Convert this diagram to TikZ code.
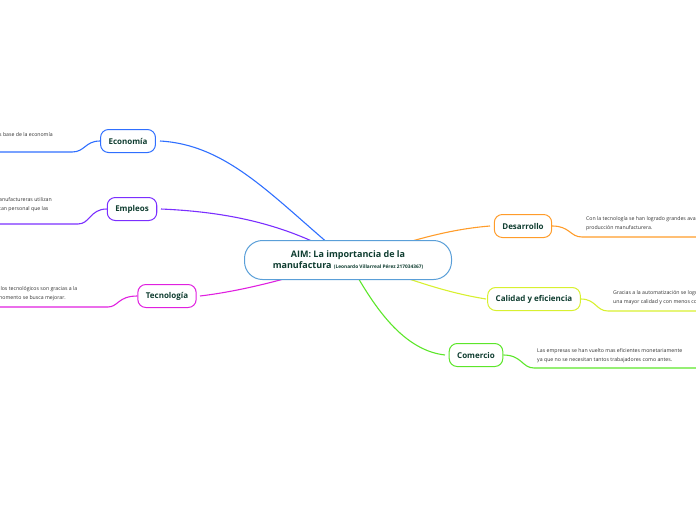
\documentclass[tikz,border=0pt]{standalone}
\usepackage{fontspec}
\setmainfont{Open Sans}
\begin{document}
\begin{tikzpicture}[x=1pt,y=-1pt,
  topic/.style={draw=#1,line width=1pt,rounded corners=8pt,fill=white,text=tc,font=\fontsize{8}{9}\selectfont\bfseries,minimum height=23pt,inner xsep=8pt},
  desc/.style={anchor=west,align=left,font=\fontsize{5.2}{9}\selectfont,text=black!80,inner sep=0pt},
  br/.style={draw=#1,line width=1.1pt}]
\definecolor{tc}{HTML}{0F3D30}
\definecolor{ceco}{HTML}{2F6FFF}
\definecolor{cemp}{HTML}{7B2FFF}
\definecolor{ctec}{HTML}{E020E0}
\definecolor{cdes}{HTML}{FF9C2A}
\definecolor{ccal}{HTML}{D8F030}
\definecolor{ccom}{HTML}{5CE62A}
\definecolor{ccen}{HTML}{5A9FD8}
\useasboundingbox (0,0) rectangle (696,520);
\clip (0,0) rectangle (696,520);
\coordinate (cc) at (348,260);
\coordinate (ue1) at (72,152); \coordinate (ue0) at (-5,152);
\coordinate (um1) at (78,224); \coordinate (um0) at (-5,224);
\coordinate (ut1) at (108,307); \coordinate (ut0) at (-5,307);
\coordinate (ud1) at (582,237); \coordinate (ud0) at (700,237);
\coordinate (uc1) at (608,311); \coordinate (uc0) at (700,311);
\coordinate (uo1) at (534,368); \coordinate (uo0) at (700,368);
\draw[br=ceco] (160,141) .. controls (230,145) and (275,200) .. (cc);
\draw[br=cemp] (161,209) .. controls (230,212) and (290,225) .. (cc);
\draw[br=ctec] (200,296) .. controls (250,290) and (300,275) .. (cc);
\draw[br=cdes] (490,226) .. controls (440,230) and (400,245) .. (cc);
\draw[br=ccal] (486,299) .. controls (430,290) and (390,270) .. (cc);
\draw[br=ccom] (445,355) .. controls (400,350) and (370,300) .. (cc);
\node[draw=ccen,line width=1pt,rounded corners=18pt,fill=white,minimum width=207pt,minimum height=39pt,align=center,text=tc,font=\fontsize{9}{11}\selectfont\bfseries] (c) at (cc)
 {AIM: La importancia de la\\manufactura {\fontsize{4.8}{5}\selectfont(Leonardo Villarreal Pérez 217034367)}};
\node[topic=ceco] (eco) at (128,141) {Economía};
\node[topic=cemp] (emp) at (132,209) {Empleos};
\node[topic=ctec] (tec) at (167,296) {Tecnología};
\node[topic=cdes] (des) at (523,226) {Desarrollo};
\node[topic=ccal] (cal) at (534,299) {Calidad y eficiencia};
\node[topic=ccom] (com) at (476,355) {Comercio};
\node[desc] at (-1,135) {s base de la economía};
\node[desc] at (-1,205) {anufactureras utilizan\\tan personal que las};
\node[desc] at (-1,294) {llos tecnológicos son gracias a la\\nomento se busca mejorar.};
\node[desc] at (586,224) {Con la tecnología se han logrado grandes avances en la\\producción manufacturera.};
\node[desc] at (613,298) {Gracias a la automatización se logra\\una mayor calidad y con menos costo.};
\node[desc] at (537,356) {Las empresas se han vuelto mas eficientes monetariamente\\ya que no se necesitan tantos trabajadores como antes.};
\draw[br=ceco] (eco.west) .. controls (85,141) and (85,152) .. (ue1) -- (ue0);
\draw[br=cemp] (emp.west) .. controls (90,209) and (90,224) .. (um1) -- (um0);
\draw[br=ctec] (tec.west) .. controls (118,296) and (118,307) .. (ut1) -- (ut0);
\draw[br=cdes] (des.east) .. controls (570,226) and (570,237) .. (ud1) -- (ud0);
\draw[br=ccal] (cal.east) .. controls (596,299) and (596,311) .. (uc1) -- (uc0);
\draw[br=ccom] (com.east) .. controls (522,355) and (522,368) .. (uo1) -- (uo0);
\end{tikzpicture}
\end{document}
